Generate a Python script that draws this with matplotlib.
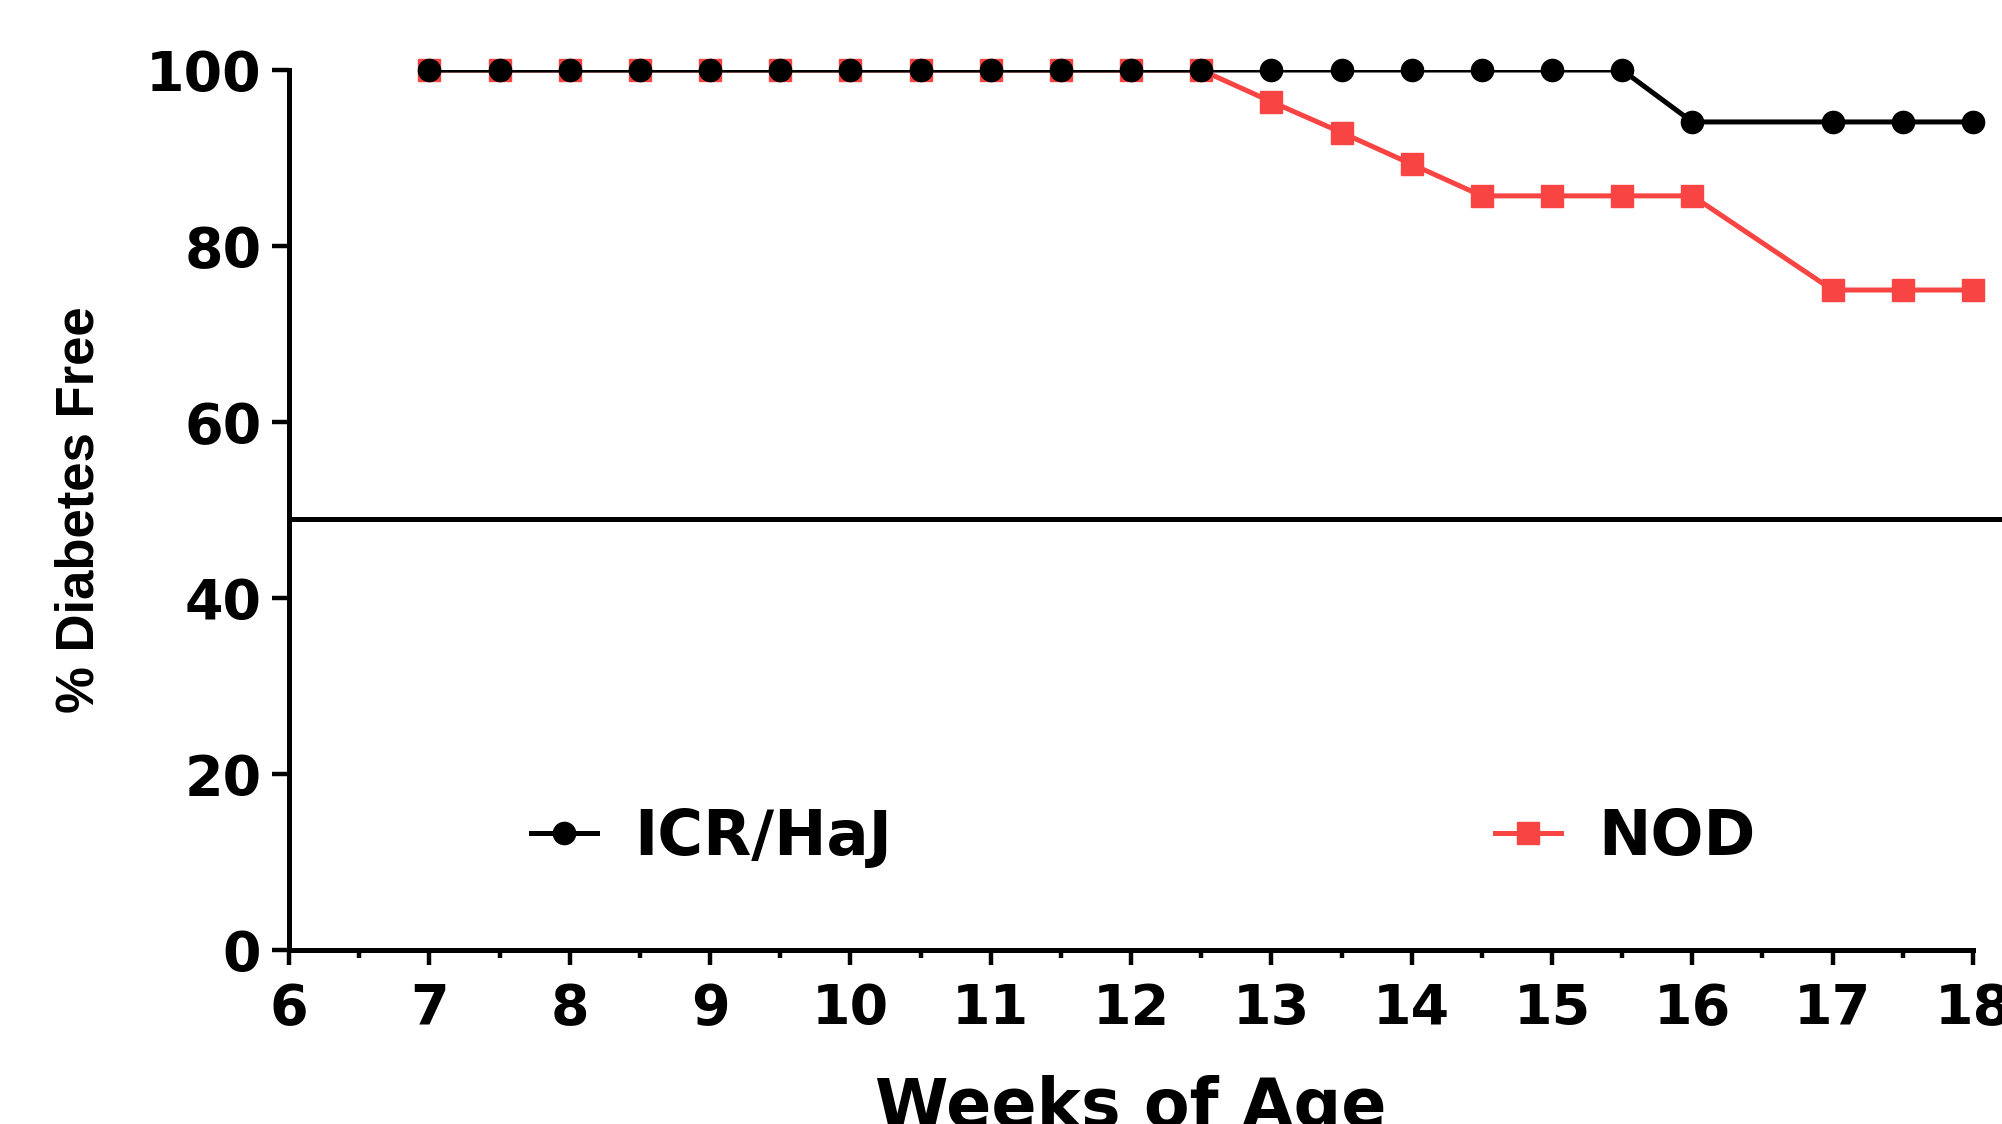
import matplotlib
matplotlib.use('Agg')
import matplotlib.pyplot as plt
from matplotlib.lines import Line2D

# data
icr_weeks = [7, 7.5, 8, 8.5, 9, 9.5, 10, 10.5, 11, 11.5, 12, 12.5, 13, 13.5, 14, 14.5, 15, 15.5, 16, 17, 17.5, 18]
icr_free = [100, 100, 100, 100, 100, 100, 100, 100, 100, 100, 100, 100, 100, 100, 100, 100, 100, 100, 94.1, 94.1, 94.1, 94.1]

nod_weeks = [7, 7.5, 8, 8.5, 9, 9.5, 10, 10.5, 11, 11.5, 12, 12.5, 13, 13.5, 14, 14.5, 15, 15.5, 16, 17, 17.5, 18]
nod_free = [100, 100, 100, 100, 100, 100, 100, 100, 100, 100, 100, 100, 96.4, 92.9, 89.3, 85.7, 85.7, 85.7, 85.7, 75.0, 75.0, 75.0]

ref_level = 49
x_ticks = list(range(6, 19))
y_ticks = [0, 20, 40, 60, 80, 100]

red = '#F94444'
font = 'DejaVu Sans'

fig = plt.figure(figsize=(20.02, 11.24), dpi=100)
ax = fig.add_axes([0.1444, 0.1548, 0.8411, 0.7829])

# lines (clipped at the top like the original) then markers on top
ax.plot(nod_weeks, nod_free, color=red, lw=3.6, zorder=3)
ax.plot(nod_weeks, nod_free, 's', color=red, ms=16, clip_on=False, zorder=4)
ax.plot(icr_weeks, icr_free, color='black', lw=3.6, zorder=5)
ax.plot(icr_weeks, icr_free, 'o', color='black', ms=16, clip_on=False, zorder=6)

# horizontal reference line running out to the edge
ax.plot([6, 18.5], [ref_level, ref_level], color='black', lw=3.6, clip_on=False, zorder=2)

ax.set_xlim(6, 18)
ax.set_ylim(0, 100)

ax.spines['top'].set_visible(False)
ax.spines['right'].set_visible(False)
ax.spines['left'].set_linewidth(3.6)
ax.spines['bottom'].set_linewidth(3.6)

ax.set_xticks(x_ticks)
ax.set_xticks([t + 0.5 for t in x_ticks[:-1]], minor=True)
ax.set_yticks(y_ticks)
ax.tick_params(axis='x', which='major', length=11, width=3.2, pad=12)
ax.tick_params(axis='x', which='minor', length=6, width=3.2)
ax.tick_params(axis='y', which='major', length=12, width=3.2, pad=8)

for lab in ax.get_xticklabels() + ax.get_yticklabels():
    lab.set_fontfamily(font)
    lab.set_fontweight('bold')
    lab.set_fontsize(40)

ax.set_xlabel('Weeks of Age', fontfamily=font, fontweight='bold', fontsize=48, labelpad=28)
ax.set_ylabel('% Diabetes Free', fontfamily='Liberation Sans', fontweight='bold', fontsize=38, labelpad=30)

handles = [
    Line2D([], [], color='black', lw=3.6, marker='o', ms=16),
    Line2D([], [], color=red, lw=3.6, marker='s', ms=16),
]
ax.legend(handles, ['ICR/HaJ', 'NOD'], ncol=2, frameon=False,
          prop={'family': font, 'weight': 'bold', 'size': 45},
          handlelength=1.05, handletextpad=0.6, columnspacing=9.65,
          loc='center left', bbox_to_anchor=(0.129, 0.127), borderaxespad=0)

fig.savefig('out.png', dpi=100)
